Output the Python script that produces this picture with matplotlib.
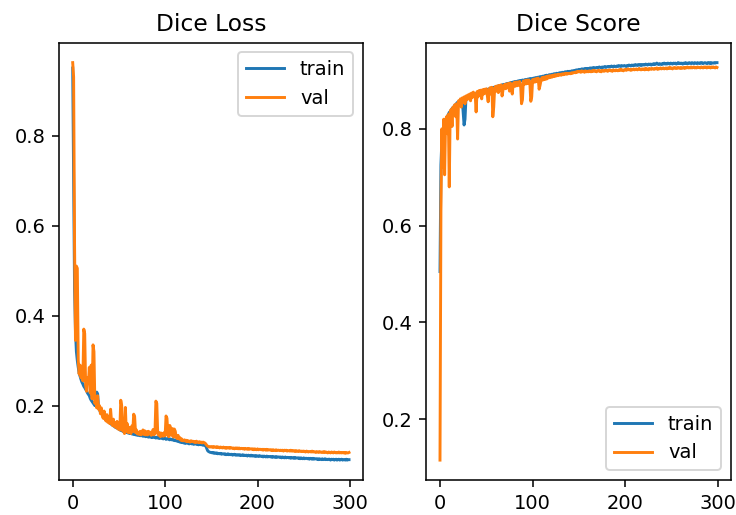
import numpy as np
import matplotlib
matplotlib.use('Agg')
import matplotlib.pyplot as plt

# dice loss per epoch (300 epochs)
train_loss = [
    0.950, 0.700, 0.460, 0.365, 0.320, 0.300, 0.285, 0.272, 0.265, 0.258,
    0.252, 0.248, 0.243, 0.240, 0.236, 0.233, 0.228, 0.225, 0.222, 0.216,
    0.212, 0.209, 0.206, 0.203, 0.200, 0.222, 0.230, 0.226, 0.195, 0.190,
    0.186, 0.183, 0.180, 0.178, 0.174, 0.172, 0.170, 0.167, 0.166, 0.163,
    0.162, 0.160, 0.158, 0.157, 0.155, 0.154, 0.152, 0.151, 0.150, 0.149,
    0.148, 0.146, 0.147, 0.144, 0.145, 0.142, 0.141, 0.143, 0.140, 0.141,
    0.139, 0.140, 0.138, 0.139, 0.137, 0.138, 0.136, 0.137, 0.135, 0.136,
    0.134, 0.135, 0.134, 0.133, 0.135, 0.133, 0.132, 0.134, 0.132, 0.131,
    0.133, 0.131, 0.130, 0.132, 0.130, 0.131, 0.129, 0.130, 0.131, 0.129,
    0.128, 0.130, 0.128, 0.129, 0.127, 0.128, 0.129, 0.127, 0.126, 0.128,
    0.127, 0.125, 0.126, 0.127, 0.125, 0.124, 0.126, 0.124, 0.125, 0.123,
    0.124, 0.122, 0.123, 0.121, 0.122, 0.120, 0.119, 0.120, 0.118, 0.119,
    0.117, 0.118, 0.116, 0.117, 0.118, 0.116, 0.115, 0.117, 0.116, 0.115,
    0.116, 0.114, 0.115, 0.116, 0.114, 0.115, 0.113, 0.114, 0.115, 0.113,
    0.114, 0.112, 0.113, 0.112, 0.110, 0.105, 0.100, 0.098, 0.097, 0.096,
    0.096, 0.095, 0.096, 0.094, 0.095, 0.094, 0.095, 0.093, 0.094, 0.093,
    0.094, 0.092, 0.093, 0.093, 0.092, 0.093, 0.091, 0.092, 0.093, 0.091,
    0.092, 0.091, 0.092, 0.090, 0.091, 0.092, 0.090, 0.091, 0.090, 0.091,
    0.090, 0.091, 0.089, 0.090, 0.091, 0.089, 0.090, 0.089, 0.090, 0.088,
    0.090, 0.089, 0.088, 0.090, 0.088, 0.089, 0.088, 0.089, 0.087, 0.089,
    0.088, 0.087, 0.089, 0.088, 0.087, 0.088, 0.086, 0.088, 0.087, 0.086,
    0.088, 0.086, 0.087, 0.087, 0.086, 0.087, 0.085, 0.087, 0.086, 0.085,
    0.087, 0.085, 0.086, 0.086, 0.085, 0.086, 0.084, 0.086, 0.085, 0.084,
    0.086, 0.084, 0.085, 0.085, 0.084, 0.085, 0.083, 0.085, 0.084, 0.083,
    0.085, 0.083, 0.084, 0.084, 0.083, 0.084, 0.082, 0.084, 0.083, 0.082,
    0.084, 0.082, 0.083, 0.083, 0.082, 0.083, 0.081, 0.083, 0.082, 0.081,
    0.083, 0.081, 0.082, 0.082, 0.081, 0.082, 0.080, 0.082, 0.081, 0.080,
    0.082, 0.080, 0.081, 0.082, 0.080, 0.081, 0.080, 0.081, 0.081, 0.079,
    0.081, 0.080, 0.081, 0.079, 0.080, 0.081, 0.079, 0.080, 0.081, 0.079,
    0.080, 0.081, 0.079, 0.080, 0.080, 0.079, 0.081, 0.079, 0.080, 0.080,
]
val_loss = [
    0.962, 0.930, 0.560, 0.345, 0.510, 0.505, 0.300, 0.270, 0.290, 0.262,
    0.280, 0.255, 0.370, 0.360, 0.245, 0.232, 0.262, 0.250, 0.285, 0.228,
    0.290, 0.215, 0.335, 0.320, 0.205, 0.215, 0.195, 0.222, 0.192, 0.200,
    0.182, 0.195, 0.178, 0.172, 0.188, 0.170, 0.166, 0.180, 0.163, 0.175,
    0.160, 0.192, 0.165, 0.156, 0.170, 0.154, 0.162, 0.151, 0.165, 0.148,
    0.155, 0.146, 0.212, 0.200, 0.144, 0.150, 0.138, 0.196, 0.142, 0.160,
    0.140, 0.152, 0.143, 0.138, 0.155, 0.142, 0.181, 0.176, 0.140, 0.146,
    0.137, 0.141, 0.136, 0.143, 0.135, 0.138, 0.146, 0.136, 0.144, 0.135,
    0.142, 0.135, 0.143, 0.137, 0.141, 0.134, 0.138, 0.147, 0.135, 0.139,
    0.210, 0.205, 0.138, 0.134, 0.140, 0.131, 0.139, 0.135, 0.132, 0.140,
    0.133, 0.177, 0.172, 0.136, 0.131, 0.156, 0.150, 0.134, 0.149, 0.130,
    0.148, 0.143, 0.129, 0.127, 0.134, 0.126, 0.129, 0.123, 0.126, 0.122,
    0.122, 0.124, 0.121, 0.123, 0.120, 0.122, 0.121, 0.119, 0.122, 0.120,
    0.121, 0.119, 0.120, 0.118, 0.121, 0.119, 0.118, 0.120, 0.118, 0.119,
    0.117, 0.119, 0.118, 0.117, 0.115, 0.112, 0.110, 0.109, 0.108, 0.109,
    0.108, 0.109, 0.107, 0.109, 0.108, 0.107, 0.109, 0.107, 0.108, 0.106,
    0.108, 0.107, 0.106, 0.108, 0.106, 0.107, 0.105, 0.107, 0.106, 0.107,
    0.105, 0.107, 0.106, 0.105, 0.106, 0.104, 0.106, 0.105, 0.106, 0.104,
    0.106, 0.104, 0.105, 0.105, 0.104, 0.105, 0.103, 0.105, 0.104, 0.103,
    0.105, 0.103, 0.104, 0.104, 0.103, 0.104, 0.102, 0.104, 0.103, 0.102,
    0.104, 0.102, 0.103, 0.103, 0.102, 0.103, 0.101, 0.103, 0.102, 0.101,
    0.103, 0.101, 0.102, 0.102, 0.101, 0.102, 0.100, 0.102, 0.101, 0.100,
    0.102, 0.100, 0.101, 0.101, 0.100, 0.101, 0.100, 0.101, 0.099, 0.101,
    0.100, 0.101, 0.099, 0.100, 0.100, 0.099, 0.101, 0.099, 0.100, 0.099,
    0.100, 0.098, 0.100, 0.099, 0.098, 0.100, 0.099, 0.098, 0.099, 0.098,
    0.099, 0.098, 0.097, 0.099, 0.098, 0.097, 0.098, 0.098, 0.097, 0.099,
    0.097, 0.098, 0.097, 0.096, 0.098, 0.097, 0.096, 0.098, 0.097, 0.096,
    0.097, 0.096, 0.098, 0.096, 0.097, 0.096, 0.095, 0.097, 0.096, 0.095,
    0.097, 0.096, 0.095, 0.097, 0.096, 0.095, 0.096, 0.095, 0.097, 0.095,
    0.096, 0.095, 0.096, 0.095, 0.096, 0.094, 0.096, 0.095, 0.095, 0.096,
]

# dice score per epoch
train_score = [
    0.505, 0.725, 0.775, 0.795, 0.805, 0.812, 0.818, 0.822, 0.826, 0.830,
    0.834, 0.836, 0.839, 0.842, 0.844, 0.846, 0.849, 0.850, 0.853, 0.855,
    0.856, 0.858, 0.857, 0.860, 0.861, 0.835, 0.808, 0.820, 0.862, 0.864,
    0.865, 0.864, 0.867, 0.868, 0.866, 0.869, 0.870, 0.871, 0.870, 0.873,
    0.874, 0.873, 0.876, 0.875, 0.877, 0.878, 0.877, 0.879, 0.880, 0.879,
    0.881, 0.880, 0.882, 0.883, 0.882, 0.884, 0.885, 0.884, 0.886, 0.885,
    0.887, 0.888, 0.887, 0.889, 0.888, 0.890, 0.889, 0.891, 0.890, 0.892,
    0.891, 0.893, 0.892, 0.894, 0.893, 0.895, 0.894, 0.896, 0.895, 0.897,
    0.896, 0.898, 0.897, 0.898, 0.899, 0.898, 0.900, 0.899, 0.900, 0.901,
    0.900, 0.901, 0.902, 0.901, 0.902, 0.903, 0.902, 0.904, 0.903, 0.904,
    0.904, 0.905, 0.904, 0.906, 0.905, 0.906, 0.907, 0.906, 0.908, 0.907,
    0.908, 0.909, 0.908, 0.910, 0.909, 0.911, 0.910, 0.911, 0.912, 0.911,
    0.912, 0.913, 0.912, 0.914, 0.913, 0.914, 0.915, 0.914, 0.915, 0.916,
    0.915, 0.916, 0.917, 0.916, 0.917, 0.918, 0.917, 0.918, 0.919, 0.918,
    0.919, 0.918, 0.920, 0.919, 0.920, 0.921, 0.920, 0.922, 0.921, 0.922,
    0.923, 0.922, 0.923, 0.924, 0.923, 0.924, 0.923, 0.925, 0.924, 0.925,
    0.924, 0.925, 0.926, 0.925, 0.926, 0.925, 0.927, 0.926, 0.926, 0.927,
    0.926, 0.927, 0.928, 0.927, 0.926, 0.928, 0.927, 0.928, 0.929, 0.927,
    0.928, 0.929, 0.928, 0.929, 0.928, 0.930, 0.929, 0.928, 0.930, 0.929,
    0.929, 0.930, 0.929, 0.931, 0.930, 0.929, 0.931, 0.930, 0.930, 0.931,
    0.930, 0.929, 0.931, 0.930, 0.932, 0.931, 0.930, 0.932, 0.931, 0.932,
    0.931, 0.933, 0.932, 0.931, 0.933, 0.932, 0.933, 0.931, 0.933, 0.932,
    0.933, 0.932, 0.934, 0.933, 0.932, 0.934, 0.933, 0.934, 0.932, 0.934,
    0.933, 0.935, 0.933, 0.934, 0.936, 0.934, 0.933, 0.935, 0.934, 0.933,
    0.935, 0.934, 0.936, 0.934, 0.935, 0.934, 0.936, 0.935, 0.934, 0.936,
    0.935, 0.934, 0.936, 0.935, 0.936, 0.934, 0.935, 0.937, 0.935, 0.936,
    0.935, 0.936, 0.934, 0.936, 0.935, 0.937, 0.935, 0.936, 0.935, 0.937,
    0.936, 0.935, 0.937, 0.936, 0.935, 0.937, 0.936, 0.935, 0.937, 0.936,
    0.935, 0.937, 0.936, 0.937, 0.935, 0.936, 0.937, 0.936, 0.935, 0.937,
    0.936, 0.937, 0.935, 0.937, 0.936, 0.936, 0.937, 0.936, 0.937, 0.937,
]
val_score = [
    0.115, 0.630, 0.800, 0.720, 0.820, 0.705, 0.815, 0.825, 0.790, 0.830,
    0.680, 0.835, 0.840, 0.805, 0.845, 0.838, 0.850, 0.825, 0.852, 0.779,
    0.858, 0.850, 0.862, 0.845, 0.864, 0.855, 0.866, 0.852, 0.868, 0.860,
    0.870, 0.862, 0.872, 0.858, 0.874, 0.865, 0.876, 0.868, 0.870, 0.835,
    0.877, 0.866, 0.879, 0.870, 0.880, 0.862, 0.881, 0.872, 0.882, 0.874,
    0.883, 0.870, 0.856, 0.880, 0.885, 0.872, 0.886, 0.825, 0.845, 0.884,
    0.888, 0.878, 0.889, 0.875, 0.890, 0.880, 0.891, 0.868, 0.880, 0.890,
    0.892, 0.883, 0.893, 0.885, 0.894, 0.878, 0.895, 0.886, 0.872, 0.893,
    0.896, 0.888, 0.897, 0.889, 0.897, 0.890, 0.898, 0.891, 0.852, 0.860,
    0.899, 0.892, 0.900, 0.893, 0.901, 0.894, 0.901, 0.895, 0.857, 0.866,
    0.902, 0.896, 0.903, 0.897, 0.904, 0.898, 0.905, 0.882, 0.890, 0.900,
    0.906, 0.901, 0.907, 0.902, 0.908, 0.903, 0.909, 0.905, 0.910, 0.906,
    0.910, 0.907, 0.911, 0.908, 0.912, 0.909, 0.912, 0.910, 0.913, 0.911,
    0.913, 0.911, 0.914, 0.912, 0.914, 0.913, 0.915, 0.913, 0.915, 0.914,
    0.915, 0.914, 0.916, 0.915, 0.916, 0.917, 0.916, 0.918, 0.917, 0.919,
    0.918, 0.919, 0.917, 0.920, 0.918, 0.919, 0.917, 0.920, 0.918, 0.919,
    0.918, 0.920, 0.919, 0.918, 0.920, 0.919, 0.921, 0.919, 0.920, 0.918,
    0.920, 0.921, 0.919, 0.920, 0.918, 0.921, 0.920, 0.919, 0.921, 0.920,
    0.921, 0.919, 0.921, 0.922, 0.920, 0.921, 0.919, 0.922, 0.921, 0.920,
    0.922, 0.921, 0.920, 0.922, 0.921, 0.923, 0.921, 0.922, 0.920, 0.922,
    0.923, 0.921, 0.922, 0.924, 0.922, 0.923, 0.921, 0.923, 0.922, 0.924,
    0.922, 0.923, 0.924, 0.922, 0.923, 0.925, 0.923, 0.922, 0.924, 0.923,
    0.924, 0.922, 0.925, 0.923, 0.924, 0.922, 0.925, 0.924, 0.923, 0.925,
    0.924, 0.923, 0.925, 0.924, 0.926, 0.923, 0.925, 0.924, 0.926, 0.924,
    0.925, 0.926, 0.924, 0.925, 0.926, 0.924, 0.926, 0.925, 0.927, 0.925,
    0.926, 0.924, 0.926, 0.927, 0.925, 0.926, 0.925, 0.927, 0.926, 0.925,
    0.927, 0.925, 0.926, 0.927, 0.925, 0.927, 0.926, 0.928, 0.926, 0.927,
    0.926, 0.928, 0.926, 0.927, 0.928, 0.926, 0.927, 0.926, 0.928, 0.927,
    0.927, 0.926, 0.928, 0.927, 0.926, 0.928, 0.927, 0.928, 0.926, 0.928,
    0.927, 0.928, 0.926, 0.928, 0.927, 0.928, 0.927, 0.926, 0.928, 0.927,
]

epochs = np.arange(len(train_loss))

dpi = 140
fig = plt.figure(figsize=(736 / dpi, 515 / dpi), dpi=dpi)
ax1 = fig.add_axes([0.080, 0.068, 0.413, 0.849])
ax2 = fig.add_axes([0.579, 0.068, 0.414, 0.849])

ax1.plot(epochs, train_loss, label='train')
ax1.plot(epochs, val_loss, label='val')
ax1.set_title('Dice Loss')
ax1.set_yticks([0.2, 0.4, 0.6, 0.8])
ax1.legend(loc='upper right')

ax2.plot(epochs, train_score, label='train')
ax2.plot(epochs, val_score, label='val')
ax2.set_title('Dice Score')
ax2.legend(loc='lower right')

plt.savefig('out.png', dpi=dpi)
